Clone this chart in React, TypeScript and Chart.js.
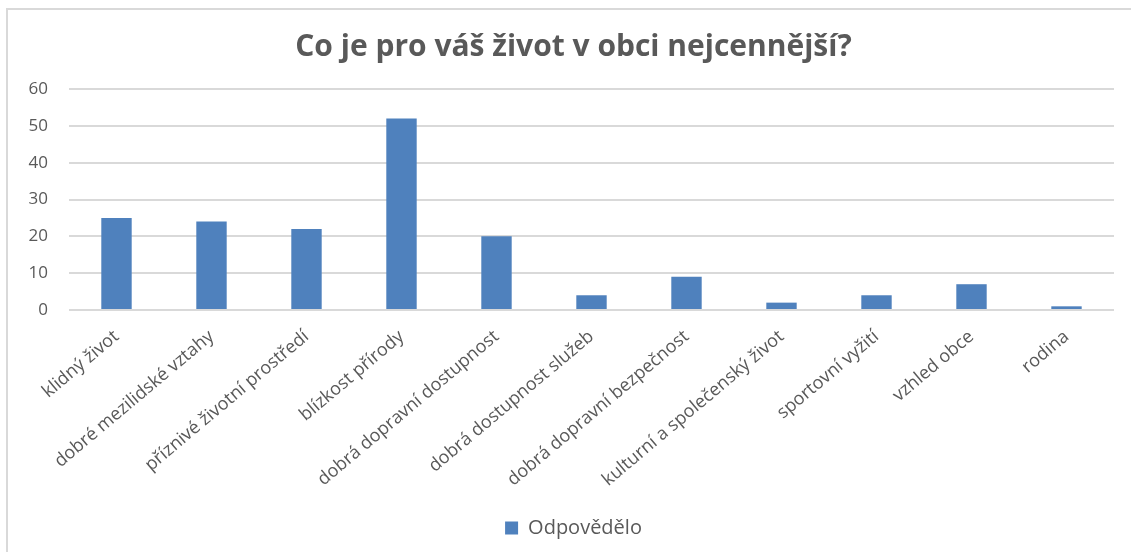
import React, { useEffect, useRef } from "react";
import { Chart, registerables } from "chart.js";

Chart.register(...registerables);

const titleText = "Co je pro váš život v obci nejcennější?";
const categories = [
  "klidný život",
  "dobré mezilidské vztahy",
  "příznivé životní prostředí",
  "blízkost přírody",
  "dobrá dopravní dostupnost",
  "dobrá dostupnost služeb",
  "dobrá dopravní bezpečnost",
  "kulturní a společenský život",
  "sportovní vyžití",
  "vzhled obce",
  "rodina",
];
const seriesName = "Odpovědělo";
const values = [25, 24, 22, 52, 20, 4, 9, 2, 4, 7, 1];
const yTicks = [0, 10, 20, 30, 40, 50, 60];

const FONT = "'Open Sans', 'DejaVu Sans', sans-serif";
const TEXT = "#595959";

export default function App() {
  const ref = useRef<HTMLCanvasElement | null>(null);
  useEffect(() => {
    if (!ref.current) return;
    const chart = new Chart(ref.current, {
      type: "bar",
      data: {
        labels: categories,
        datasets: [
          {
            label: seriesName,
            data: values,
            backgroundColor: "#4f81bd",
            borderWidth: 0,
            categoryPercentage: 1,
            barPercentage: 0.32,
            yAxisID: "y",
          },
        ],
      },
      options: {
        animation: false,
        responsive: true,
        maintainAspectRatio: false,
        layout: { padding: { left: 16, right: 0, top: 0, bottom: 4 } },
        plugins: {
          title: {
            display: true,
            text: titleText,
            color: TEXT,
            font: { family: FONT, size: 30, weight: "bold" },
            padding: { top: 29, bottom: 24 },
          },
          legend: {
            position: "bottom",
            labels: {
              color: TEXT,
              font: { family: FONT, size: 20 },
              boxWidth: 13,
              boxHeight: 13,
              padding: 10,
            },
          },
          tooltip: { enabled: false },
        },
        scales: {
          x: {
            grid: { display: false, drawTicks: false },
            border: { display: false },
            ticks: {
              color: TEXT,
              font: { family: FONT, size: 18 },
              minRotation: 40,
              maxRotation: 40,
              autoSkip: false,
              padding: 16,
            },
            afterFit: (s: any) => {
              s.height = 198;
            },
          },
          y: {
            position: "left",
            min: 0,
            max: 60,
            afterBuildTicks: (s: any) => {
              s.ticks = yTicks.map((v) => ({ value: v }));
            },
            grid: { color: "#d9d9d9", lineWidth: 2, drawTicks: false },
            border: { display: false },
            ticks: {
              color: TEXT,
              font: { family: FONT, size: 17 },
              padding: 21,
            },
            afterFit: (s: any) => {
              s.width = 53;
            },
          },
          spacer: {
            type: "linear",
            position: "right",
            display: true,
            grid: { display: false, drawTicks: false },
            border: { display: false },
            ticks: { display: false },
            afterFit: (s: any) => {
              s.width = 17;
            },
          },
        },
      },
    });
    return () => chart.destroy();
  }, []);

  return (
    <div style={{ position: "fixed", left: 0, top: 0, width: 1131, height: 552, background: "#fff" }}>
      <canvas ref={ref} />
      <div
        style={{
          position: "absolute",
          left: 6,
          top: 8,
          right: 0,
          bottom: 0,
          borderTop: "2px solid #d9d9d9",
          borderLeft: "2px solid #d9d9d9",
          pointerEvents: "none",
        }}
      />
    </div>
  );
}
